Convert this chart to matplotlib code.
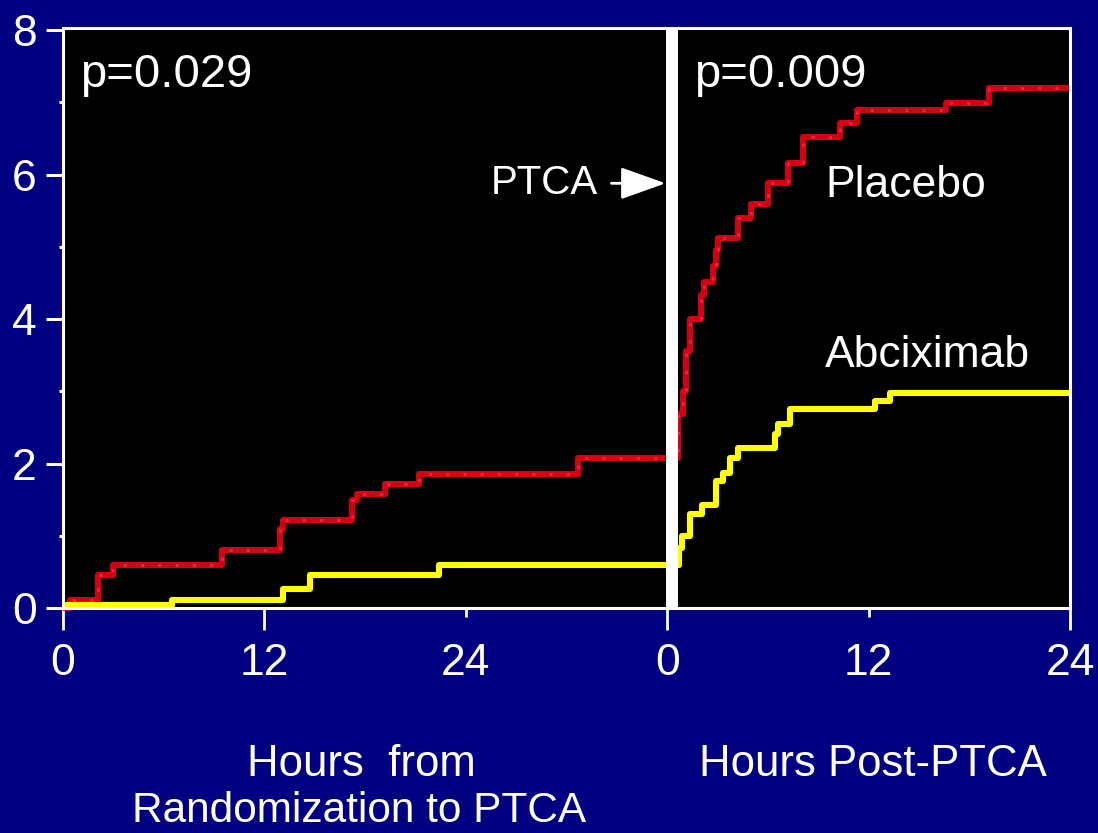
import matplotlib
matplotlib.use('Agg')
import matplotlib.pyplot as plt
from matplotlib.ticker import FixedLocator

plt.rcParams['font.family'] = ['Liberation Sans', 'DejaVu Sans']

# hours: 0-36 from randomization to PTCA, then 36-60 = 0-24 h post-PTCA
PTCA_HOUR = 36

# left panel (hours from randomization), step positions and cumulative %
placebo_pre_t = [0, 0.4, 2.1, 3.0, 9.5, 12.9, 13.1, 17.2, 17.5, 19.2, 21.2, 30.7, 36]
placebo_pre_v = [0, 0.11, 0.46, 0.6, 0.8, 1.1, 1.22, 1.5, 1.58, 1.72, 1.86, 2.07, 2.07]
abcix_pre_t = [0, 6.5, 13.1, 14.7, 22.4, 36]
abcix_pre_v = [0.04, 0.11, 0.26, 0.46, 0.6, 0.6]

# right panel (hours post-PTCA)
placebo_post_t = [0, 0.66, 0.95, 1.1, 1.35, 2.0, 2.2, 2.75, 2.9, 3.05, 4.2, 5.0,
                  6.0, 7.2, 8.1, 10.3, 11.3, 16.6, 19.2, 24]
placebo_post_v = [2.07, 2.69, 3.0, 3.56, 4.0, 4.33, 4.52, 4.74, 4.95, 5.12, 5.4, 5.59,
                  5.88, 6.16, 6.52, 6.71, 6.9, 6.99, 7.2, 7.2]
abcix_post_t = [0, 0.7, 0.9, 1.37, 2.1, 2.9, 3.3, 3.76, 4.2, 6.45, 6.6, 7.3, 12.4, 13.25, 24]
abcix_post_v = [0.6, 0.83, 1.0, 1.3, 1.43, 1.76, 1.87, 2.07, 2.22, 2.41, 2.55, 2.75, 2.87, 2.98, 2.98]

x_major = [0, 12, 36, 60]
x_major_labels = ['0', '12', '0', '24']
x_minor = [24, 48]
x_minor_labels = ['24', '12']
y_ticks = [0, 2, 4, 6, 8]

NAVY = '#000080'
RED = '#d20010'
RED_DOT = '#ff1a4a'
YELLOW = '#ffff00'

fig = plt.figure(figsize=(10.98, 8.33), dpi=100, facecolor=NAVY)
ax = fig.add_axes([63/1098, 1-608/833, (1070-63)/1098, (608-28)/833])
ax.set_facecolor('black')

def step(t, v, shift, color, dots=False):
    xs = [shift + a for a in t]
    ax.plot(xs, v, drawstyle='steps-post', color=color, lw=4.4,
            solid_capstyle='butt', zorder=3, clip_on=False)
    if dots:
        ax.plot(xs, v, drawstyle='steps-post', color=RED_DOT, lw=2.0,
                linestyle=(0, (1.2, 5)), zorder=3.1, clip_on=False)

step(placebo_pre_t, placebo_pre_v, 0, RED, dots=True)
step(abcix_pre_t, abcix_pre_v, 0, YELLOW)
step(placebo_post_t, placebo_post_v, PTCA_HOUR, RED, dots=True)
step(abcix_post_t, abcix_post_v, PTCA_HOUR, YELLOW)

ax.axvline(PTCA_HOUR + 0.3, color='white', lw=8.6, zorder=4)

ax.set_xlim(0, 60)
ax.set_ylim(0, 8.03)
for s in ax.spines.values():
    s.set_color('white')
    s.set_linewidth(2.2)
    s.set_zorder(5)

ax.xaxis.set_major_locator(FixedLocator(x_major))
ax.xaxis.set_minor_locator(FixedLocator(x_minor))
ax.set_xticklabels(x_major_labels)
ax.set_xticklabels(x_minor_labels, minor=True)
ax.tick_params(axis='x', which='major', length=15.5, width=2, color='white',
               pad=10, labelcolor='white', labelsize=32)
ax.tick_params(axis='x', which='minor', length=6.5, width=2, color='white',
               pad=19, labelcolor='white', labelsize=32)
ax.set_yticks(y_ticks)
ax.set_yticks([1, 3, 5, 7], minor=True)
ax.tick_params(axis='y', which='major', length=12, width=2.2, color='white',
               pad=7, labelcolor='white', labelsize=32)
ax.tick_params(axis='y', which='minor', length=3, width=2.2, color='white')

ax.text(1.0, 7.21, 'p=0.029', color='white', fontsize=34,
        va='baseline', ha='left')
ax.text(37.6, 7.21, 'p=0.009', color='white', fontsize=34,
        va='baseline', ha='left')
ax.text(45.4, 5.69, 'Placebo', color='white', fontsize=32,
        va='baseline', ha='left')
ax.text(45.4, 3.34, 'Abciximab', color='white', fontsize=32,
        va='baseline', ha='left')
ax.annotate('PTCA', xy=(35.9, 5.88), xytext=(31.85, 5.88), color='white',
            fontsize=29, ha='right', va='center', zorder=6,
            arrowprops=dict(arrowstyle='-|>,head_length=1.4,head_width=0.5',
                            mutation_scale=20, lw=2, color='white',
                            shrinkA=8, shrinkB=0))

fig.text(361/1098, 1-776/833, 'Hours  from', color='white', fontsize=31.5,
         ha='center', va='baseline')
fig.text(359/1098, 1-822/833, 'Randomization to PTCA', color='white', fontsize=30.5,
         ha='center', va='baseline')
fig.text(873/1098, 1-776/833, 'Hours Post-PTCA', color='white', fontsize=31.5,
         ha='center', va='baseline')

fig.savefig('out.png', dpi=100, facecolor=NAVY)
